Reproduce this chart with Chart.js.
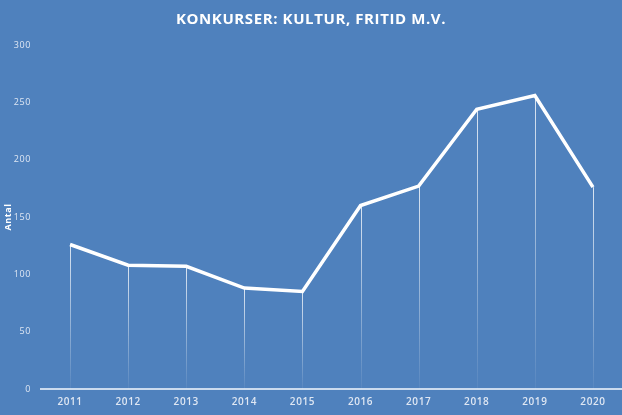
<!DOCTYPE html>
<html>
<head>
<meta charset="utf-8">
<script src="https://cdn.jsdelivr.net/npm/chart.js@4/dist/chart.umd.min.js"></script>
<style>
    html, body { margin: 0; padding: 0; background: #4f81bd; overflow: hidden; }
    #wrap { width: 622px; height: 415px; }
</style>
</head>
<body>
<div id="wrap"><canvas id="chart"></canvas></div>
<script>
const years = ['2011', '2012', '2013', '2014', '2015', '2016', '2017', '2018', '2019', '2020'];
const bankruptcies = [126, 108, 107, 88, 85, 160, 177, 244, 256, 176];
const yTicks = [0, 50, 100, 150, 200, 250, 300];

// vertical drop lines from each point down to the x axis, fading out
const dropLines = {
    id: 'dropLines',
    beforeDatasetsDraw(chart) {
        const { ctx, scales: { x, y } } = chart;
        const base = y.getPixelForValue(0);
        ctx.save();
        bankruptcies.forEach((v, i) => {
            const px = Math.round(x.getPixelForValue(i)) + 0.5;
            const top = y.getPixelForValue(v);
            const g = ctx.createLinearGradient(0, top, 0, base);
            g.addColorStop(0, 'rgba(255,255,255,0.8)');
            g.addColorStop(1, 'rgba(255,255,255,0.05)');
            ctx.strokeStyle = g;
            ctx.lineWidth = 1;
            ctx.beginPath();
            ctx.moveTo(px, top);
            ctx.lineTo(px, base);
            ctx.stroke();
        });
        ctx.restore();
    }
};

const spacing = {
    id: 'spacing',
    beforeDraw(chart) { chart.ctx.letterSpacing = '0.6px'; },
    afterDraw(chart) { chart.ctx.letterSpacing = '0px'; }
};

new Chart(document.getElementById('chart'), {
    type: 'line',
    data: {
        labels: years,
        datasets: [{
            data: bankruptcies,
            borderColor: '#ffffff',
            borderWidth: 3.5,
            pointRadius: 0,
            tension: 0,
            borderJoinStyle: 'miter'
        }]
    },
    options: {
        responsive: true,
        maintainAspectRatio: false,
        animation: false,
        layout: { padding: { left: 0, right: 0, top: 9, bottom: 0 } },
        plugins: {
            legend: { display: false },
            tooltip: { enabled: false },
            title: {
                display: true,
                text: 'KONKURSER: KULTUR, FRITID M.V.',
                color: '#ffffff',
                font: { family: 'Open Sans', size: 15, weight: 'bold' },
                padding: { top: 2, bottom: 16 }
            }
        },
        scales: {
            x: {
                offset: true,
                grid: { display: false, drawTicks: false },
                border: { display: true, color: 'rgba(225,235,247,0.85)', width: 2 },
                ticks: {
                    color: '#dfe7f3',
                    font: { family: 'Open Sans', size: 10, weight: '600' },
                    padding: 7,
                    maxRotation: 0
                }
            },
            y: {
                min: 0,
                max: 300,
                afterBuildTicks(scale) { scale.ticks = yTicks.map(v => ({ value: v })); },
                afterFit(scale) { scale.width = 41; },
                grid: { display: false, drawTicks: false },
                border: { display: false },
                ticks: {
                    color: '#dfe7f3',
                    font: { family: 'Open Sans', size: 9 },
                    padding: 10
                },
                title: {
                    display: true,
                    text: 'Antal',
                    color: '#ffffff',
                    font: { family: 'Open Sans', size: 9, weight: 'bold' },
                    padding: { top: 3, bottom: 0 }
                }
            }
        }
    },
    plugins: [dropLines, spacing]
});
</script>
</body>
</html>
